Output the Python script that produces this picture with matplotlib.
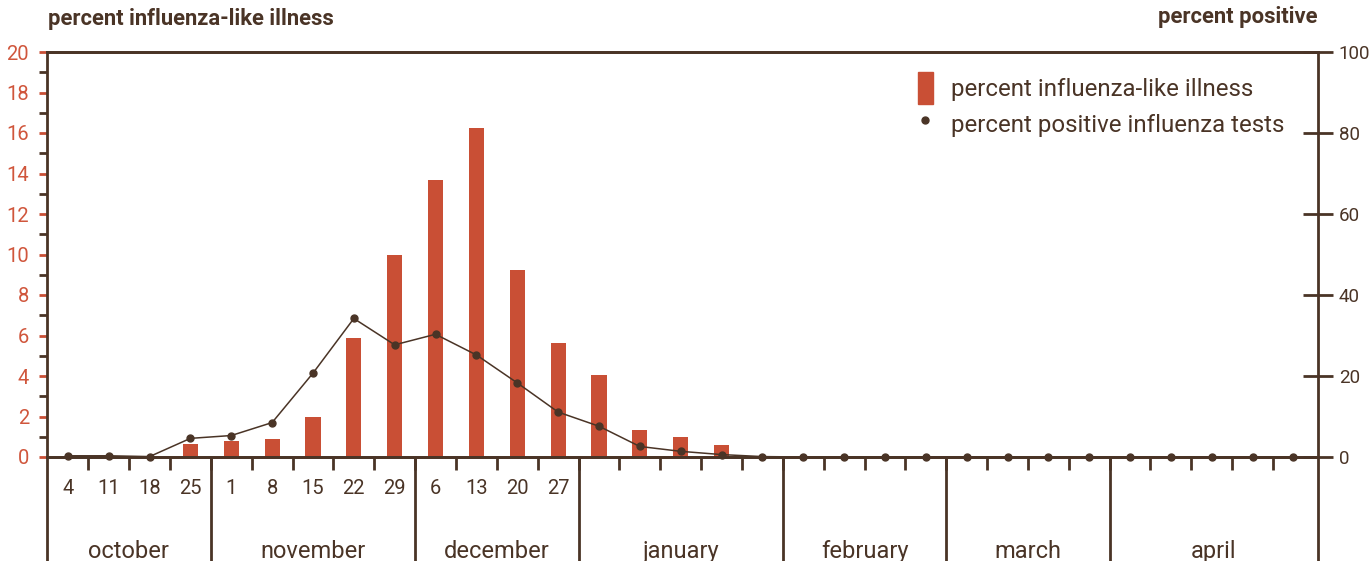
import numpy as np
import matplotlib
matplotlib.use("Agg")
import matplotlib.pyplot as plt
import matplotlib.transforms as mtransforms
from matplotlib.patches import Patch
from matplotlib.lines import Line2D

plt.rcParams['font.family'] = ['Roboto', 'DejaVu Sans']

red = '#c94f35'
red_txt = '#d0563c'
brown = '#4a3426'

# weekly data, october through april
weeks = np.arange(31)
ili = [0, 0, 0, 0.63, 0.77, 0.87, 2.0, 5.9, 9.96, 13.66, 16.23, 9.22, 5.61,
       4.05, 1.33, 0.98, 0.6, 0, 0, 0, 0, 0, 0, 0, 0, 0, 0, 0, 0, 0, 0]
positive = [0.3, 0.3, 0.1, 4.6, 5.3, 8.5, 20.7, 34.2, 27.7, 30.3, 25.2, 18.3, 11.1,
            7.6, 2.6, 1.4, 0.6, 0.1, 0, 0, 0, 0, 0, 0, 0, 0, 0, 0, 0, 0, 0]
week_labels = ['4', '11', '18', '25', '1', '8', '15', '22', '29', '6', '13', '20', '27']
months = ['october', 'november', 'december', 'january', 'february', 'march', 'april']
month_weeks = [4, 5, 4, 5, 4, 4, 5]

x_left, x_right = -0.51, 30.6

fig = plt.figure(figsize=(13.72, 5.61), dpi=100)
ax = fig.add_axes([47/1372, 104/561, (1318-47)/1372, 405/561])
ax2 = ax.twinx()

ax.bar(weeks, ili, width=0.37, color=red, zorder=2)
ax2.plot(weeks, positive, color=brown, lw=1.1, marker='o', ms=5, zorder=3, clip_on=False)

ax.set_xlim(x_left, x_right)
ax.set_ylim(0, 20)
ax2.set_ylim(0, 100)

for a in (ax, ax2):
    for s in a.spines.values():
        s.set_color(brown)
        s.set_linewidth(2)
ax2.spines['left'].set_visible(False)
ax.spines['right'].set_visible(False)

# left axis
ax.set_yticks(np.arange(0, 21, 2))
ax.set_yticks(np.arange(1, 20, 2), minor=True)
ax.tick_params(axis='y', which='major', length=6, width=2, color=red, labelcolor=red_txt,
               labelsize=14.5, pad=7)
ax.tick_params(axis='y', which='minor', length=6, width=2, color=brown)

# right axis
ax2.set_yticks(np.arange(0, 101, 20))
ax2.tick_params(axis='y', which='major', direction='inout', length=22, width=2, color=brown,
                labelcolor=brown, labelsize=13.5, pad=4)

# week axis
ax.set_xticks(weeks)
ax.set_xticklabels(week_labels + [''] * (len(weeks) - len(week_labels)))
ax.set_xticks(weeks[:-1] + 0.5, minor=True)
ax.tick_params(axis='x', which='major', length=0, labelsize=14.5, labelcolor=brown, pad=16)
ax.tick_params(axis='x', which='minor', length=9, width=2, color=brown)

# month separators and labels
trans = mtransforms.blended_transform_factory(ax.transData, ax.transAxes)
edges = np.concatenate([[x_left], -0.5 + np.cumsum(month_weeks)])
edges[-1] = x_right
ax.vlines(edges, -0.27, 0, transform=trans, color=brown, lw=2, clip_on=False)
for m, a, b in zip(months, edges[:-1], edges[1:]):
    ax.text((a + b) / 2, -0.233, m, transform=trans, ha='center', va='center',
            fontsize=17, color=brown)

# titles
fig.text(48/1372, 1 - 19/561, 'percent influenza-like illness', ha='left', va='center',
         fontsize=15.8, fontweight='bold', color=brown)
fig.text(1318/1372, 1 - 17/561, 'percent positive', ha='right', va='center',
         fontsize=15.8, fontweight='bold', color=brown)

handles = [Patch(color=red), Line2D([], [], color=brown, marker='o', ms=5, lw=0)]
leg = ax.legend(handles, ['percent influenza-like illness', 'percent positive influenza tests'],
                loc='upper left', bbox_to_anchor=(918/1372, 1 - 72/561),
                bbox_transform=fig.transFigure, frameon=False, fontsize=17.3,
                handlelength=0.62, handleheight=1.65, handletextpad=0.75,
                labelspacing=0.2, borderpad=0, borderaxespad=0)
for t in leg.get_texts():
    t.set_color(brown)

fig.savefig('out.png', dpi=100)
